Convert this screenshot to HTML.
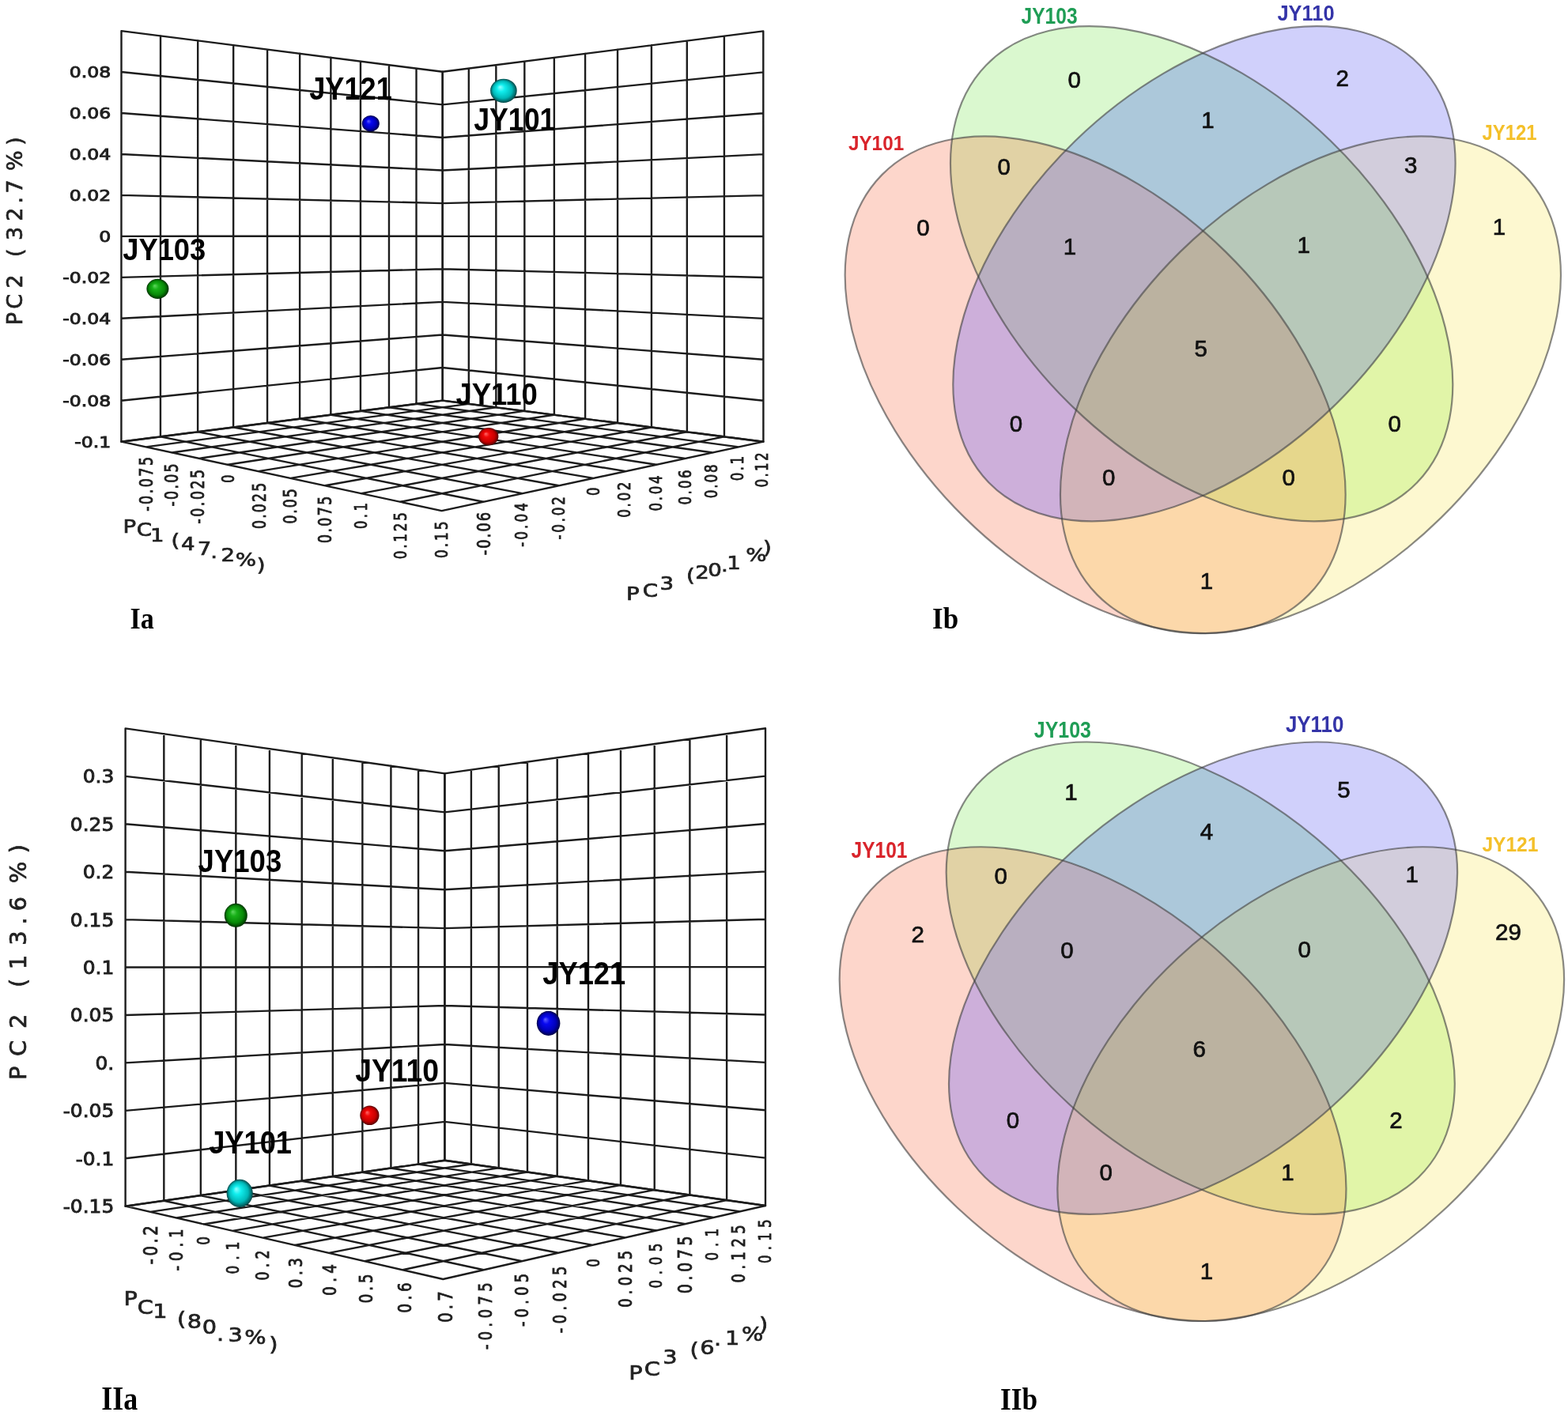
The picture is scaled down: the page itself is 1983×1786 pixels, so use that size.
<!DOCTYPE html><html><head><meta charset="utf-8"><title>PCA and Venn</title><style>html,body{margin:0;padding:0;background:#fff;}svg{display:block;}</style></head><body><svg width="1983" height="1786" viewBox="0 0 1983 1786"><defs><radialGradient id="g_red" cx="0.5" cy="0.5" r="0.5" fx="0.36" fy="0.34"><stop offset="0" stop-color="#ff6a6a"/><stop offset="0.3" stop-color="#f00808"/><stop offset="0.72" stop-color="#c80000"/><stop offset="0.92" stop-color="#780000"/><stop offset="1" stop-color="#500000"/></radialGradient><radialGradient id="g_blue" cx="0.5" cy="0.5" r="0.5" fx="0.36" fy="0.34"><stop offset="0" stop-color="#6060ff"/><stop offset="0.3" stop-color="#0808f0"/><stop offset="0.72" stop-color="#0000b8"/><stop offset="0.92" stop-color="#000068"/><stop offset="1" stop-color="#000040"/></radialGradient><radialGradient id="g_green" cx="0.5" cy="0.5" r="0.5" fx="0.36" fy="0.34"><stop offset="0" stop-color="#60d860"/><stop offset="0.3" stop-color="#18b018"/><stop offset="0.72" stop-color="#088808"/><stop offset="0.92" stop-color="#004c00"/><stop offset="1" stop-color="#003000"/></radialGradient><radialGradient id="g_cyan" cx="0.5" cy="0.5" r="0.5" fx="0.36" fy="0.34"><stop offset="0" stop-color="#90ffff"/><stop offset="0.3" stop-color="#10eeee"/><stop offset="0.72" stop-color="#00b8b8"/><stop offset="0.92" stop-color="#006a6a"/><stop offset="1" stop-color="#004444"/></radialGradient></defs>
<rect width="1983" height="1786" fill="#fff"/>
<path d="M153.50 39.10L153.40 558.70M203.02 45.40L202.94 552.35M250.19 51.41L250.12 546.30M295.17 57.13L295.11 540.53M338.10 62.60L338.06 535.02M379.14 67.82L379.10 529.76M418.38 72.81L418.35 524.72M455.97 77.60L455.94 519.90M491.98 82.18L491.97 515.29M526.53 86.58L526.52 510.85M559.70 90.80L559.70 506.60M153.50 39.10L559.70 90.80M153.49 91.05L559.70 132.37M153.48 143.00L559.70 173.95M153.47 194.95L559.70 215.52M153.46 246.91L559.70 257.10M153.45 298.87L559.70 298.68M153.44 350.83L559.70 340.26M153.43 402.79L559.70 381.84M153.42 454.76L559.70 423.43M153.41 506.73L559.70 465.01M153.40 558.70L559.70 506.60" stroke="#1c1c1c" stroke-width="2.4" fill="none" stroke-linecap="round"/>
<path d="M559.70 90.80L559.70 506.60M592.84 86.60L592.84 510.86M627.35 82.23L627.36 515.29M663.33 77.67L663.35 519.91M700.86 72.91L700.89 524.73M740.06 67.94L740.10 529.77M781.03 62.75L781.08 535.03M823.89 57.32L823.95 540.54M868.79 51.63L868.87 546.30M915.88 45.66L915.96 552.35M965.30 39.40L965.40 558.70M559.70 90.80L965.30 39.40M559.70 132.37L965.31 91.32M559.70 173.95L965.32 143.24M559.70 215.52L965.33 195.16M559.70 257.10L965.34 247.09M559.70 298.68L965.35 299.02M559.70 340.26L965.36 350.95M559.70 381.84L965.37 402.88M559.70 423.43L965.38 454.82M559.70 465.01L965.39 506.76M559.70 506.60L965.40 558.70" stroke="#1c1c1c" stroke-width="2.4" fill="none" stroke-linecap="round"/>
<path d="M153.40 558.70L558.60 646.10M203.04 552.33L611.26 634.79M250.30 546.27L660.59 624.19M295.33 540.50L706.88 614.24M338.30 534.99L750.42 604.89M379.34 529.73L791.44 596.08M418.58 524.70L830.14 587.76M456.13 519.88L866.73 579.90M492.11 515.27L901.37 572.46M526.60 510.84L934.22 565.40M559.70 506.60L965.40 558.70M153.40 558.70L559.70 506.60M184.44 565.40L592.74 510.84M217.15 572.45L627.16 515.26M251.64 579.89L663.07 519.88M288.08 587.75L700.56 524.69M326.63 596.06L739.74 529.72M367.48 604.88L780.72 534.98M410.85 614.23L823.63 540.49M456.97 624.18L868.61 546.27M506.12 634.78L915.81 552.33M558.60 646.10L965.40 558.70" stroke="#1c1c1c" stroke-width="2.4" fill="none" stroke-linecap="round"/>
<text transform="translate(87.70,98.42) scale(1.2313,1)" style="font-family:'DejaVu Sans',sans-serif;font-size:19.14px;stroke:#1e1e1e;stroke-width:0.9px;" fill="#222">0.08</text>
<text transform="translate(87.70,150.38) scale(1.2313,1)" style="font-family:'DejaVu Sans',sans-serif;font-size:19.14px;stroke:#1e1e1e;stroke-width:0.9px;" fill="#222">0.06</text>
<text transform="translate(87.70,202.34) scale(1.2313,1)" style="font-family:'DejaVu Sans',sans-serif;font-size:19.14px;stroke:#1e1e1e;stroke-width:0.9px;" fill="#222">0.04</text>
<text transform="translate(87.70,254.30) scale(1.2313,1)" style="font-family:'DejaVu Sans',sans-serif;font-size:19.14px;stroke:#1e1e1e;stroke-width:0.9px;" fill="#222">0.02</text>
<text transform="translate(125.17,306.26) scale(1.2313,1)" style="font-family:'DejaVu Sans',sans-serif;font-size:19.14px;stroke:#1e1e1e;stroke-width:0.9px;" fill="#222">0</text>
<text transform="translate(79.22,358.22) scale(1.2313,1)" style="font-family:'DejaVu Sans',sans-serif;font-size:19.14px;stroke:#1e1e1e;stroke-width:0.9px;" fill="#222">-0.02</text>
<text transform="translate(79.22,410.18) scale(1.2313,1)" style="font-family:'DejaVu Sans',sans-serif;font-size:19.14px;stroke:#1e1e1e;stroke-width:0.9px;" fill="#222">-0.04</text>
<text transform="translate(79.22,462.14) scale(1.2313,1)" style="font-family:'DejaVu Sans',sans-serif;font-size:19.14px;stroke:#1e1e1e;stroke-width:0.9px;" fill="#222">-0.06</text>
<text transform="translate(79.22,514.10) scale(1.2313,1)" style="font-family:'DejaVu Sans',sans-serif;font-size:19.14px;stroke:#1e1e1e;stroke-width:0.9px;" fill="#222">-0.08</text>
<text transform="translate(94.18,566.06) scale(1.2313,1)" style="font-family:'DejaVu Sans',sans-serif;font-size:19.14px;stroke:#1e1e1e;stroke-width:0.9px;" fill="#222">-0.1</text>
<text transform="translate(192.66,646.70) rotate(-90) scale(0.7800,1)" style="font-family:'DejaVu Sans',sans-serif;font-size:22.44px;letter-spacing:3.17px;stroke:#1a1a1a;stroke-width:0.9px;" fill="#222">-0.075</text>
<text transform="translate(225.46,640.40) rotate(-90) scale(0.7800,1)" style="font-family:'DejaVu Sans',sans-serif;font-size:22.44px;letter-spacing:2.79px;stroke:#1a1a1a;stroke-width:0.9px;" fill="#222">-0.05</text>
<text transform="translate(258.27,662.60) rotate(-90) scale(0.7800,1)" style="font-family:'DejaVu Sans',sans-serif;font-size:22.31px;letter-spacing:3.25px;stroke:#1a1a1a;stroke-width:0.9px;" fill="#222">-0.025</text>
<text transform="translate(296.39,610.70) rotate(-90) scale(0.7800,1)" style="font-family:'DejaVu Sans',sans-serif;font-size:20.86px;letter-spacing:0.00px;stroke:#1a1a1a;stroke-width:0.9px;" fill="#222">0</text>
<text transform="translate(335.57,669.00) rotate(-90) scale(0.7800,1)" style="font-family:'DejaVu Sans',sans-serif;font-size:22.31px;letter-spacing:2.72px;stroke:#1a1a1a;stroke-width:0.9px;" fill="#222">0.025</text>
<text transform="translate(374.77,662.60) rotate(-90) scale(0.7800,1)" style="font-family:'DejaVu Sans',sans-serif;font-size:22.31px;letter-spacing:2.41px;stroke:#1a1a1a;stroke-width:0.9px;" fill="#222">0.05</text>
<text transform="translate(419.27,687.00) rotate(-90) scale(0.7800,1)" style="font-family:'DejaVu Sans',sans-serif;font-size:22.31px;letter-spacing:3.04px;stroke:#1a1a1a;stroke-width:0.9px;" fill="#222">0.075</text>
<text transform="translate(463.79,669.00) rotate(-90) scale(0.7800,1)" style="font-family:'DejaVu Sans',sans-serif;font-size:20.99px;letter-spacing:4.34px;stroke:#1a1a1a;stroke-width:0.9px;" fill="#222">0.1</text>
<text transform="translate(513.58,707.30) rotate(-90) scale(0.7800,1)" style="font-family:'DejaVu Sans',sans-serif;font-size:21.65px;letter-spacing:3.51px;stroke:#1a1a1a;stroke-width:0.9px;" fill="#222">0.125</text>
<text transform="translate(565.67,706.00) rotate(-90) scale(0.7800,1)" style="font-family:'DejaVu Sans',sans-serif;font-size:21.78px;letter-spacing:3.74px;stroke:#1a1a1a;stroke-width:0.9px;" fill="#222">0.15</text>
<text transform="translate(619.66,702.20) rotate(-90) scale(0.7800,1)" style="font-family:'DejaVu Sans',sans-serif;font-size:22.97px;letter-spacing:2.61px;stroke:#1a1a1a;stroke-width:0.9px;" fill="#222">-0.06</text>
<text transform="translate(667.28,691.80) rotate(-90) scale(0.7800,1)" style="font-family:'DejaVu Sans',sans-serif;font-size:21.52px;letter-spacing:3.93px;stroke:#1a1a1a;stroke-width:0.9px;" fill="#222">-0.04</text>
<text transform="translate(713.68,682.50) rotate(-90) scale(0.7800,1)" style="font-family:'DejaVu Sans',sans-serif;font-size:21.52px;letter-spacing:3.55px;stroke:#1a1a1a;stroke-width:0.9px;" fill="#222">-0.02</text>
<text transform="translate(757.68,626.90) rotate(-90) scale(0.7800,1)" style="font-family:'DejaVu Sans',sans-serif;font-size:21.39px;letter-spacing:0.00px;stroke:#1a1a1a;stroke-width:0.9px;" fill="#222">0</text>
<text transform="translate(797.18,654.70) rotate(-90) scale(0.7800,1)" style="font-family:'DejaVu Sans',sans-serif;font-size:21.52px;letter-spacing:3.34px;stroke:#1a1a1a;stroke-width:0.9px;" fill="#222">0.02</text>
<text transform="translate(836.58,646.60) rotate(-90) scale(0.7800,1)" style="font-family:'DejaVu Sans',sans-serif;font-size:21.39px;letter-spacing:3.48px;stroke:#1a1a1a;stroke-width:0.9px;" fill="#222">0.04</text>
<text transform="translate(873.68,638.50) rotate(-90) scale(0.7800,1)" style="font-family:'DejaVu Sans',sans-serif;font-size:21.39px;letter-spacing:2.97px;stroke:#1a1a1a;stroke-width:0.9px;" fill="#222">0.06</text>
<text transform="translate(907.38,630.30) rotate(-90) scale(0.7800,1)" style="font-family:'DejaVu Sans',sans-serif;font-size:21.52px;letter-spacing:2.36px;stroke:#1a1a1a;stroke-width:0.9px;" fill="#222">0.08</text>
<text transform="translate(939.78,608.30) rotate(-90) scale(0.7800,1)" style="font-family:'DejaVu Sans',sans-serif;font-size:21.39px;letter-spacing:3.06px;stroke:#1a1a1a;stroke-width:0.9px;" fill="#222">0.1</text>
<text transform="translate(971.18,616.40) rotate(-90) scale(0.7800,1)" style="font-family:'DejaVu Sans',sans-serif;font-size:21.52px;letter-spacing:2.87px;stroke:#1a1a1a;stroke-width:0.9px;" fill="#222">0.12</text>
<text transform="translate(155.49,674.14) scale(1.2000,1)" style="font-family:'DejaVu Sans',sans-serif;font-size:23.00px;stroke:#222;stroke-width:0.7px;" fill="#222">P</text>
<text transform="translate(172.82,677.77) scale(1.2000,1)" style="font-family:'DejaVu Sans',sans-serif;font-size:23.00px;stroke:#222;stroke-width:0.7px;" fill="#222">C</text>
<text transform="translate(189.90,684.94) scale(1.2000,1)" style="font-family:'DejaVu Sans',sans-serif;font-size:23.00px;stroke:#222;stroke-width:0.7px;" fill="#222">1</text>
<text transform="translate(216.42,691.90) scale(1.2000,1)" style="font-family:'DejaVu Sans',sans-serif;font-size:23.00px;stroke:#222;stroke-width:0.7px;" fill="#222">(</text>
<text transform="translate(228.95,695.75) scale(1.2000,1)" style="font-family:'DejaVu Sans',sans-serif;font-size:23.00px;stroke:#222;stroke-width:0.7px;" fill="#222">4</text>
<text transform="translate(249.65,701.89) scale(1.2000,1)" style="font-family:'DejaVu Sans',sans-serif;font-size:23.00px;stroke:#222;stroke-width:0.7px;" fill="#222">7</text>
<text transform="translate(266.32,705.99) scale(1.2000,1)" style="font-family:'DejaVu Sans',sans-serif;font-size:23.00px;stroke:#222;stroke-width:0.7px;" fill="#222">.</text>
<text transform="translate(279.60,710.44) scale(1.2000,1)" style="font-family:'DejaVu Sans',sans-serif;font-size:23.00px;stroke:#222;stroke-width:0.7px;" fill="#222">2</text>
<text transform="translate(297.69,715.92) scale(1.2000,1)" style="font-family:'DejaVu Sans',sans-serif;font-size:23.00px;stroke:#222;stroke-width:0.7px;" fill="#222">%</text>
<text transform="translate(324.82,723.15) scale(1.2000,1)" style="font-family:'DejaVu Sans',sans-serif;font-size:23.00px;stroke:#222;stroke-width:0.7px;" fill="#222">)</text>
<text transform="translate(792.09,759.35) scale(1.2000,1)" style="font-family:'DejaVu Sans',sans-serif;font-size:23.00px;stroke:#222;stroke-width:0.7px;" fill="#222">P</text>
<text transform="translate(812.82,755.27) scale(1.2000,1)" style="font-family:'DejaVu Sans',sans-serif;font-size:23.00px;stroke:#222;stroke-width:0.7px;" fill="#222">C</text>
<text transform="translate(834.50,746.02) scale(1.2000,1)" style="font-family:'DejaVu Sans',sans-serif;font-size:23.00px;stroke:#222;stroke-width:0.7px;" fill="#222">3</text>
<text transform="translate(868.07,735.60) scale(1.2000,1)" style="font-family:'DejaVu Sans',sans-serif;font-size:23.00px;stroke:#222;stroke-width:0.7px;" fill="#222">(</text>
<text transform="translate(879.15,732.14) scale(1.2000,1)" style="font-family:'DejaVu Sans',sans-serif;font-size:23.00px;stroke:#222;stroke-width:0.7px;" fill="#222">2</text>
<text transform="translate(895.35,728.57) scale(1.2000,1)" style="font-family:'DejaVu Sans',sans-serif;font-size:23.00px;stroke:#222;stroke-width:0.7px;" fill="#222">0</text>
<text transform="translate(911.92,722.79) scale(1.2000,1)" style="font-family:'DejaVu Sans',sans-serif;font-size:23.00px;stroke:#222;stroke-width:0.7px;" fill="#222">.</text>
<text transform="translate(919.15,719.94) scale(1.2000,1)" style="font-family:'DejaVu Sans',sans-serif;font-size:23.00px;stroke:#222;stroke-width:0.7px;" fill="#222">1</text>
<text transform="translate(943.24,710.07) scale(1.2000,1)" style="font-family:'DejaVu Sans',sans-serif;font-size:23.00px;stroke:#222;stroke-width:0.7px;" fill="#222">%</text>
<text transform="translate(964.92,700.79) scale(1.2000,1)" style="font-family:'DejaVu Sans',sans-serif;font-size:23.00px;stroke:#222;stroke-width:0.7px;" fill="#222">)</text>
<text transform="translate(28.40,411.33) rotate(-90)" style="font-family:'DejaVu Sans',sans-serif;font-size:27.00px;stroke:#222;stroke-width:0.7px;" fill="#222">P</text>
<text transform="translate(28.40,390.67) rotate(-90)" style="font-family:'DejaVu Sans',sans-serif;font-size:27.00px;stroke:#222;stroke-width:0.7px;" fill="#222">C</text>
<text transform="translate(28.40,364.46) rotate(-90)" style="font-family:'DejaVu Sans',sans-serif;font-size:27.00px;stroke:#222;stroke-width:0.7px;" fill="#222">2</text>
<text transform="translate(28.40,325.06) rotate(-90)" style="font-family:'DejaVu Sans',sans-serif;font-size:27.00px;stroke:#222;stroke-width:0.7px;" fill="#222">(</text>
<text transform="translate(28.40,304.11) rotate(-90)" style="font-family:'DejaVu Sans',sans-serif;font-size:27.00px;stroke:#222;stroke-width:0.7px;" fill="#222">3</text>
<text transform="translate(28.40,279.86) rotate(-90)" style="font-family:'DejaVu Sans',sans-serif;font-size:27.00px;stroke:#222;stroke-width:0.7px;" fill="#222">2</text>
<text transform="translate(28.40,257.49) rotate(-90)" style="font-family:'DejaVu Sans',sans-serif;font-size:27.00px;stroke:#222;stroke-width:0.7px;" fill="#222">.</text>
<text transform="translate(28.40,244.56) rotate(-90)" style="font-family:'DejaVu Sans',sans-serif;font-size:27.00px;stroke:#222;stroke-width:0.7px;" fill="#222">7</text>
<text transform="translate(28.40,215.92) rotate(-90)" style="font-family:'DejaVu Sans',sans-serif;font-size:27.00px;stroke:#222;stroke-width:0.7px;" fill="#222">%</text>
<text transform="translate(28.40,183.67) rotate(-90)" style="font-family:'DejaVu Sans',sans-serif;font-size:27.00px;stroke:#222;stroke-width:0.7px;" fill="#222">)</text>
<ellipse cx="468.8" cy="156.3" rx="11.0" ry="10.2" fill="url(#g_blue)"/>
<ellipse cx="636.9" cy="114.8" rx="16.8" ry="15.1" fill="url(#g_cyan)"/>
<ellipse cx="199.4" cy="365.3" rx="14.0" ry="12.6" fill="url(#g_green)"/>
<ellipse cx="617.7" cy="552.1" rx="12.7" ry="11.2" fill="url(#g_red)"/>
<text transform="translate(391.20,125.69) scale(0.8831,1)" style="font-family:'Liberation Sans',Arial,sans-serif;font-weight:bold;font-size:40.99px;" fill="#000">JY121</text>
<text transform="translate(599.20,165.49) scale(0.8704,1)" style="font-family:'Liberation Sans',Arial,sans-serif;font-weight:bold;font-size:40.99px;" fill="#000">JY101</text>
<text transform="translate(155.20,328.73) scale(0.9590,1)" style="font-family:'Liberation Sans',Arial,sans-serif;font-weight:bold;font-size:37.89px;" fill="#000">JY103</text>
<text transform="translate(576.40,511.62) scale(0.9639,1)" style="font-family:'Liberation Sans',Arial,sans-serif;font-weight:bold;font-size:37.88px;" fill="#000">JY110</text>
<path d="M158.60 921.40L158.60 1525.70M207.32 928.28L207.32 1518.71M253.85 934.85L253.85 1512.04M298.34 941.13L298.34 1505.66M340.92 947.14L340.92 1499.56M381.71 952.89L381.71 1493.71M420.82 958.42L420.82 1488.10M458.36 963.71L458.36 1482.72M494.41 968.80L494.41 1477.55M529.06 973.69L529.06 1472.58M562.40 978.40L562.40 1467.80M158.60 921.40L562.40 978.40M158.60 981.83L562.40 1027.34M158.60 1042.26L562.40 1076.28M158.60 1102.69L562.40 1125.22M158.60 1163.12L562.40 1174.16M158.60 1223.55L562.40 1223.10M158.60 1283.98L562.40 1272.04M158.60 1344.41L562.40 1320.98M158.60 1404.84L562.40 1369.92M158.60 1465.27L562.40 1418.86M158.60 1525.70L562.40 1467.80" stroke="#1c1c1c" stroke-width="2.4" fill="none" stroke-linecap="round"/>
<path d="M562.40 978.40L562.40 1467.80M595.91 973.67L595.91 1472.53M630.74 968.76L630.74 1477.44M666.97 963.65L666.97 1482.55M704.68 958.33L704.68 1487.87M743.98 952.79L743.98 1493.41M784.95 947.01L784.95 1499.19M827.71 940.98L827.71 1505.22M872.39 934.68L872.39 1511.52M919.10 928.10L919.10 1518.10M968.00 921.20L968.00 1525.00M562.40 978.40L968.00 921.20M562.40 1027.34L968.00 981.58M562.40 1076.28L968.00 1041.96M562.40 1125.22L968.00 1102.34M562.40 1174.16L968.00 1162.72M562.40 1223.10L968.00 1223.10M562.40 1272.04L968.00 1283.48M562.40 1320.98L968.00 1343.86M562.40 1369.92L968.00 1404.24M562.40 1418.86L968.00 1464.62M562.40 1467.80L968.00 1525.00" stroke="#1c1c1c" stroke-width="2.4" fill="none" stroke-linecap="round"/>
<path d="M158.60 1525.70L560.30 1618.00M207.10 1518.75L611.74 1606.27M253.48 1512.10L660.27 1595.20M297.87 1505.73L706.13 1584.73M340.41 1499.63L749.54 1574.83M381.20 1493.78L790.69 1565.44M420.35 1488.17L829.76 1556.53M457.96 1482.77L866.88 1548.07M494.12 1477.59L902.22 1540.01M528.91 1472.60L935.88 1532.33M562.40 1467.80L968.00 1525.00M158.60 1525.70L562.40 1467.80M190.00 1532.91L595.78 1472.51M222.96 1540.49L630.50 1477.40M257.60 1548.45L666.65 1482.50M294.05 1556.82L704.30 1487.81M332.46 1565.65L743.56 1493.35M373.00 1574.96L784.53 1499.13M415.84 1584.81L827.33 1505.16M461.18 1595.22L872.08 1511.47M509.25 1606.27L918.92 1518.08M560.30 1618.00L968.00 1525.00" stroke="#1c1c1c" stroke-width="2.4" fill="none" stroke-linecap="round"/>
<text transform="translate(104.68,990.23) scale(1.0785,1)" style="font-family:'DejaVu Sans',sans-serif;font-size:23.10px;stroke:#1e1e1e;stroke-width:0.9px;" fill="#222">0.3</text>
<text transform="translate(88.80,1050.66) scale(1.0785,1)" style="font-family:'DejaVu Sans',sans-serif;font-size:23.10px;stroke:#1e1e1e;stroke-width:0.9px;" fill="#222">0.25</text>
<text transform="translate(104.68,1111.09) scale(1.0785,1)" style="font-family:'DejaVu Sans',sans-serif;font-size:23.10px;stroke:#1e1e1e;stroke-width:0.9px;" fill="#222">0.2</text>
<text transform="translate(88.80,1171.52) scale(1.0785,1)" style="font-family:'DejaVu Sans',sans-serif;font-size:23.10px;stroke:#1e1e1e;stroke-width:0.9px;" fill="#222">0.15</text>
<text transform="translate(104.68,1231.95) scale(1.0785,1)" style="font-family:'DejaVu Sans',sans-serif;font-size:23.10px;stroke:#1e1e1e;stroke-width:0.9px;" fill="#222">0.1</text>
<text transform="translate(88.80,1292.38) scale(1.0785,1)" style="font-family:'DejaVu Sans',sans-serif;font-size:23.10px;stroke:#1e1e1e;stroke-width:0.9px;" fill="#222">0.05</text>
<text transform="translate(120.51,1352.81) scale(1.0785,1)" style="font-family:'DejaVu Sans',sans-serif;font-size:23.10px;stroke:#1e1e1e;stroke-width:0.9px;" fill="#222">0.</text>
<text transform="translate(79.83,1413.24) scale(1.0785,1)" style="font-family:'DejaVu Sans',sans-serif;font-size:23.10px;stroke:#1e1e1e;stroke-width:0.9px;" fill="#222">-0.05</text>
<text transform="translate(95.65,1473.67) scale(1.0785,1)" style="font-family:'DejaVu Sans',sans-serif;font-size:23.10px;stroke:#1e1e1e;stroke-width:0.9px;" fill="#222">-0.1</text>
<text transform="translate(79.83,1534.10) scale(1.0785,1)" style="font-family:'DejaVu Sans',sans-serif;font-size:23.10px;stroke:#1e1e1e;stroke-width:0.9px;" fill="#222">-0.15</text>
<text transform="translate(198.52,1599.20) rotate(-90) scale(0.7800,1)" style="font-family:'DejaVu Sans',sans-serif;font-size:25.21px;letter-spacing:4.53px;stroke:#1a1a1a;stroke-width:0.9px;" fill="#222">-0.2</text>
<text transform="translate(231.25,1607.40) rotate(-90) scale(0.7800,1)" style="font-family:'DejaVu Sans',sans-serif;font-size:23.37px;letter-spacing:7.48px;stroke:#1a1a1a;stroke-width:0.9px;" fill="#222">-0.1</text>
<text transform="translate(265.28,1574.70) rotate(-90) scale(0.7800,1)" style="font-family:'DejaVu Sans',sans-serif;font-size:21.52px;letter-spacing:0.00px;stroke:#1a1a1a;stroke-width:0.9px;" fill="#222">0</text>
<text transform="translate(302.08,1611.50) rotate(-90) scale(0.7800,1)" style="font-family:'DejaVu Sans',sans-serif;font-size:21.65px;letter-spacing:9.01px;stroke:#1a1a1a;stroke-width:0.9px;" fill="#222">0.1</text>
<text transform="translate(340.17,1619.60) rotate(-90) scale(0.7800,1)" style="font-family:'DejaVu Sans',sans-serif;font-size:22.31px;letter-spacing:6.69px;stroke:#1a1a1a;stroke-width:0.9px;" fill="#222">0.2</text>
<text transform="translate(382.35,1629.20) rotate(-90) scale(0.7800,1)" style="font-family:'DejaVu Sans',sans-serif;font-size:23.37px;letter-spacing:5.85px;stroke:#1a1a1a;stroke-width:0.9px;" fill="#222">0.3</text>
<text transform="translate(424.55,1638.70) rotate(-90) scale(0.7800,1)" style="font-family:'DejaVu Sans',sans-serif;font-size:23.37px;letter-spacing:6.74px;stroke:#1a1a1a;stroke-width:0.9px;" fill="#222">0.4</text>
<text transform="translate(470.85,1648.20) rotate(-90) scale(0.7800,1)" style="font-family:'DejaVu Sans',sans-serif;font-size:23.37px;letter-spacing:4.95px;stroke:#1a1a1a;stroke-width:0.9px;" fill="#222">0.5</text>
<text transform="translate(519.85,1660.50) rotate(-90) scale(0.7800,1)" style="font-family:'DejaVu Sans',sans-serif;font-size:23.37px;letter-spacing:5.85px;stroke:#1a1a1a;stroke-width:0.9px;" fill="#222">0.6</text>
<text transform="translate(571.62,1672.80) rotate(-90) scale(0.7800,1)" style="font-family:'DejaVu Sans',sans-serif;font-size:25.21px;letter-spacing:5.27px;stroke:#1a1a1a;stroke-width:0.9px;" fill="#222">0.7</text>
<text transform="translate(621.96,1707.00) rotate(-90) scale(0.7800,1)" style="font-family:'DejaVu Sans',sans-serif;font-size:22.84px;letter-spacing:6.96px;stroke:#1a1a1a;stroke-width:0.9px;" fill="#222">-0.075</text>
<text transform="translate(668.36,1678.10) rotate(-90) scale(0.7800,1)" style="font-family:'DejaVu Sans',sans-serif;font-size:22.97px;letter-spacing:6.71px;stroke:#1a1a1a;stroke-width:0.9px;" fill="#222">-0.05</text>
<text transform="translate(715.96,1686.20) rotate(-90) scale(0.7800,1)" style="font-family:'DejaVu Sans',sans-serif;font-size:22.97px;letter-spacing:6.90px;stroke:#1a1a1a;stroke-width:0.9px;" fill="#222">-0.025</text>
<text transform="translate(757.68,1602.70) rotate(-90) scale(0.7800,1)" style="font-family:'DejaVu Sans',sans-serif;font-size:21.39px;letter-spacing:0.00px;stroke:#1a1a1a;stroke-width:0.9px;" fill="#222">0</text>
<text transform="translate(799.46,1653.70) rotate(-90) scale(0.7800,1)" style="font-family:'DejaVu Sans',sans-serif;font-size:22.97px;letter-spacing:6.61px;stroke:#1a1a1a;stroke-width:0.9px;" fill="#222">0.025</text>
<text transform="translate(836.58,1629.40) rotate(-90) scale(0.7800,1)" style="font-family:'DejaVu Sans',sans-serif;font-size:21.39px;letter-spacing:8.44px;stroke:#1a1a1a;stroke-width:0.9px;" fill="#222">0.05</text>
<text transform="translate(874.83,1636.30) rotate(-90) scale(0.7800,1)" style="font-family:'DejaVu Sans',sans-serif;font-size:24.55px;letter-spacing:5.83px;stroke:#1a1a1a;stroke-width:0.9px;" fill="#222">0.075</text>
<text transform="translate(908.48,1594.60) rotate(-90) scale(0.7800,1)" style="font-family:'DejaVu Sans',sans-serif;font-size:21.39px;letter-spacing:9.02px;stroke:#1a1a1a;stroke-width:0.9px;" fill="#222">0.1</text>
<text transform="translate(942.16,1622.40) rotate(-90) scale(0.7800,1)" style="font-family:'DejaVu Sans',sans-serif;font-size:22.97px;letter-spacing:6.99px;stroke:#1a1a1a;stroke-width:0.9px;" fill="#222">0.125</text>
<text transform="translate(974.58,1598.00) rotate(-90) scale(0.7800,1)" style="font-family:'DejaVu Sans',sans-serif;font-size:21.39px;letter-spacing:7.88px;stroke:#1a1a1a;stroke-width:0.9px;" fill="#222">0.15</text>
<text transform="translate(156.59,1651.22) scale(1.1500,1)" style="font-family:'DejaVu Sans',sans-serif;font-size:25.00px;stroke:#222;stroke-width:0.7px;" fill="#222">P</text>
<text transform="translate(173.87,1662.09) scale(1.1500,1)" style="font-family:'DejaVu Sans',sans-serif;font-size:25.00px;stroke:#222;stroke-width:0.7px;" fill="#222">C</text>
<text transform="translate(193.14,1666.88) scale(1.1500,1)" style="font-family:'DejaVu Sans',sans-serif;font-size:25.00px;stroke:#222;stroke-width:0.7px;" fill="#222">1</text>
<text transform="translate(223.94,1676.53) scale(1.1500,1)" style="font-family:'DejaVu Sans',sans-serif;font-size:25.00px;stroke:#222;stroke-width:0.7px;" fill="#222">(</text>
<text transform="translate(236.69,1679.84) scale(1.1500,1)" style="font-family:'DejaVu Sans',sans-serif;font-size:25.00px;stroke:#222;stroke-width:0.7px;" fill="#222">8</text>
<text transform="translate(255.79,1686.64) scale(1.1500,1)" style="font-family:'DejaVu Sans',sans-serif;font-size:25.00px;stroke:#222;stroke-width:0.7px;" fill="#222">0</text>
<text transform="translate(273.99,1696.11) scale(1.1500,1)" style="font-family:'DejaVu Sans',sans-serif;font-size:25.00px;stroke:#222;stroke-width:0.7px;" fill="#222">.</text>
<text transform="translate(288.44,1696.84) scale(1.1500,1)" style="font-family:'DejaVu Sans',sans-serif;font-size:25.00px;stroke:#222;stroke-width:0.7px;" fill="#222">3</text>
<text transform="translate(309.14,1700.24) scale(1.1500,1)" style="font-family:'DejaVu Sans',sans-serif;font-size:25.00px;stroke:#222;stroke-width:0.7px;" fill="#222">%</text>
<text transform="translate(340.34,1708.53) scale(1.1500,1)" style="font-family:'DejaVu Sans',sans-serif;font-size:25.00px;stroke:#222;stroke-width:0.7px;" fill="#222">)</text>
<text transform="translate(795.19,1745.17) scale(1.1500,1)" style="font-family:'DejaVu Sans',sans-serif;font-size:25.00px;stroke:#222;stroke-width:0.7px;" fill="#222">P</text>
<text transform="translate(814.67,1739.94) scale(1.1500,1)" style="font-family:'DejaVu Sans',sans-serif;font-size:25.00px;stroke:#222;stroke-width:0.7px;" fill="#222">C</text>
<text transform="translate(838.19,1725.39) scale(1.1500,1)" style="font-family:'DejaVu Sans',sans-serif;font-size:25.00px;stroke:#222;stroke-width:0.7px;" fill="#222">3</text>
<text transform="translate(872.49,1716.12) scale(1.1500,1)" style="font-family:'DejaVu Sans',sans-serif;font-size:25.00px;stroke:#222;stroke-width:0.7px;" fill="#222">(</text>
<text transform="translate(885.19,1712.69) scale(1.1500,1)" style="font-family:'DejaVu Sans',sans-serif;font-size:25.00px;stroke:#222;stroke-width:0.7px;" fill="#222">6</text>
<text transform="translate(903.09,1702.26) scale(1.1500,1)" style="font-family:'DejaVu Sans',sans-serif;font-size:25.00px;stroke:#222;stroke-width:0.7px;" fill="#222">.</text>
<text transform="translate(917.04,1701.12) scale(1.1500,1)" style="font-family:'DejaVu Sans',sans-serif;font-size:25.00px;stroke:#222;stroke-width:0.7px;" fill="#222">1</text>
<text transform="translate(938.09,1696.44) scale(1.1500,1)" style="font-family:'DejaVu Sans',sans-serif;font-size:25.00px;stroke:#222;stroke-width:0.7px;" fill="#222">%</text>
<text transform="translate(960.04,1683.62) scale(1.1500,1)" style="font-family:'DejaVu Sans',sans-serif;font-size:25.00px;stroke:#222;stroke-width:0.7px;" fill="#222">)</text>
<text transform="translate(33.20,1366.09) rotate(-90)" style="font-family:'DejaVu Sans',sans-serif;font-size:29.00px;stroke:#222;stroke-width:0.7px;" fill="#222">P</text>
<text transform="translate(33.20,1336.11) rotate(-90)" style="font-family:'DejaVu Sans',sans-serif;font-size:29.00px;stroke:#222;stroke-width:0.7px;" fill="#222">C</text>
<text transform="translate(33.20,1301.09) rotate(-90)" style="font-family:'DejaVu Sans',sans-serif;font-size:29.00px;stroke:#222;stroke-width:0.7px;" fill="#222">2</text>
<text transform="translate(33.20,1249.06) rotate(-90)" style="font-family:'DejaVu Sans',sans-serif;font-size:29.00px;stroke:#222;stroke-width:0.7px;" fill="#222">(</text>
<text transform="translate(33.20,1226.34) rotate(-90)" style="font-family:'DejaVu Sans',sans-serif;font-size:29.00px;stroke:#222;stroke-width:0.7px;" fill="#222">1</text>
<text transform="translate(33.20,1195.84) rotate(-90)" style="font-family:'DejaVu Sans',sans-serif;font-size:29.00px;stroke:#222;stroke-width:0.7px;" fill="#222">3</text>
<text transform="translate(33.20,1169.50) rotate(-90)" style="font-family:'DejaVu Sans',sans-serif;font-size:29.00px;stroke:#222;stroke-width:0.7px;" fill="#222">.</text>
<text transform="translate(33.20,1152.44) rotate(-90)" style="font-family:'DejaVu Sans',sans-serif;font-size:29.00px;stroke:#222;stroke-width:0.7px;" fill="#222">6</text>
<text transform="translate(33.20,1117.33) rotate(-90)" style="font-family:'DejaVu Sans',sans-serif;font-size:29.00px;stroke:#222;stroke-width:0.7px;" fill="#222">%</text>
<text transform="translate(33.20,1079.20) rotate(-90)" style="font-family:'DejaVu Sans',sans-serif;font-size:29.00px;stroke:#222;stroke-width:0.7px;" fill="#222">)</text>
<ellipse cx="298.3" cy="1157.8" rx="14.5" ry="15.0" fill="url(#g_green)"/>
<ellipse cx="693.6" cy="1294.3" rx="14.8" ry="15.6" fill="url(#g_blue)"/>
<ellipse cx="467.4" cy="1410.8" rx="12.1" ry="12.3" fill="url(#g_red)"/>
<ellipse cx="303.2" cy="1509.4" rx="16.6" ry="17.7" fill="url(#g_cyan)"/>
<text transform="translate(250.60,1102.80) scale(0.9072,1)" style="font-family:'Liberation Sans',Arial,sans-serif;font-weight:bold;font-size:40.28px;" fill="#000">JY103</text>
<text transform="translate(686.30,1244.99) scale(0.8757,1)" style="font-family:'Liberation Sans',Arial,sans-serif;font-weight:bold;font-size:41.41px;" fill="#000">JY121</text>
<text transform="translate(449.20,1368.00) scale(0.9363,1)" style="font-family:'Liberation Sans',Arial,sans-serif;font-weight:bold;font-size:39.86px;" fill="#000">JY110</text>
<text transform="translate(264.20,1458.60) scale(0.8971,1)" style="font-family:'Liberation Sans',Arial,sans-serif;font-weight:bold;font-size:40.42px;" fill="#000">JY101</text>
<defs><ellipse id="aeP" cx="0" cy="0" rx="378.65" ry="235.6" transform=" translate(1385.15,486.75) rotate(44.55)"/><clipPath id="acP"><use href="#aeP"/></clipPath><ellipse id="aeG" cx="0" cy="0" rx="379.4" ry="234.3" transform=" translate(1519.65,346.30) rotate(44.07)"/><clipPath id="acG"><use href="#aeG"/></clipPath><ellipse id="aeB" cx="0" cy="0" rx="379.4" ry="234.3" transform=" translate(1522.95,346.30) rotate(-44.07)"/><clipPath id="acB"><use href="#aeB"/></clipPath><ellipse id="aeY" cx="0" cy="0" rx="378.65" ry="235.6" transform=" translate(1657.45,486.75) rotate(-44.55)"/><clipPath id="acY"><use href="#aeY"/></clipPath><mask id="amPGY" maskUnits="userSpaceOnUse" x="1000" y="-80" width="983" height="1000"><rect x="1000" y="-80" width="983" height="1000" fill="#fff"/><use href="#aeP" fill="#000"/><use href="#aeG" fill="#000"/><use href="#aeY" fill="#000"/></mask><mask id="amPY" maskUnits="userSpaceOnUse" x="1000" y="-80" width="983" height="1000"><rect x="1000" y="-80" width="983" height="1000" fill="#fff"/><use href="#aeP" fill="#000"/><use href="#aeY" fill="#000"/></mask><mask id="amPGB" maskUnits="userSpaceOnUse" x="1000" y="-80" width="983" height="1000"><rect x="1000" y="-80" width="983" height="1000" fill="#fff"/><use href="#aeP" fill="#000"/><use href="#aeG" fill="#000"/><use href="#aeB" fill="#000"/></mask><mask id="amPG" maskUnits="userSpaceOnUse" x="1000" y="-80" width="983" height="1000"><rect x="1000" y="-80" width="983" height="1000" fill="#fff"/><use href="#aeP" fill="#000"/><use href="#aeG" fill="#000"/></mask><mask id="amGBY" maskUnits="userSpaceOnUse" x="1000" y="-80" width="983" height="1000"><rect x="1000" y="-80" width="983" height="1000" fill="#fff"/><use href="#aeG" fill="#000"/><use href="#aeB" fill="#000"/><use href="#aeY" fill="#000"/></mask><mask id="amPBY" maskUnits="userSpaceOnUse" x="1000" y="-80" width="983" height="1000"><rect x="1000" y="-80" width="983" height="1000" fill="#fff"/><use href="#aeP" fill="#000"/><use href="#aeB" fill="#000"/><use href="#aeY" fill="#000"/></mask><mask id="amB" maskUnits="userSpaceOnUse" x="1000" y="-80" width="983" height="1000"><rect x="1000" y="-80" width="983" height="1000" fill="#fff"/><use href="#aeB" fill="#000"/></mask><mask id="amGB" maskUnits="userSpaceOnUse" x="1000" y="-80" width="983" height="1000"><rect x="1000" y="-80" width="983" height="1000" fill="#fff"/><use href="#aeG" fill="#000"/><use href="#aeB" fill="#000"/></mask><mask id="amGY" maskUnits="userSpaceOnUse" x="1000" y="-80" width="983" height="1000"><rect x="1000" y="-80" width="983" height="1000" fill="#fff"/><use href="#aeG" fill="#000"/><use href="#aeY" fill="#000"/></mask><mask id="amP" maskUnits="userSpaceOnUse" x="1000" y="-80" width="983" height="1000"><rect x="1000" y="-80" width="983" height="1000" fill="#fff"/><use href="#aeP" fill="#000"/></mask><mask id="amPB" maskUnits="userSpaceOnUse" x="1000" y="-80" width="983" height="1000"><rect x="1000" y="-80" width="983" height="1000" fill="#fff"/><use href="#aeP" fill="#000"/><use href="#aeB" fill="#000"/></mask><mask id="amBY" maskUnits="userSpaceOnUse" x="1000" y="-80" width="983" height="1000"><rect x="1000" y="-80" width="983" height="1000" fill="#fff"/><use href="#aeB" fill="#000"/><use href="#aeY" fill="#000"/></mask><mask id="amY" maskUnits="userSpaceOnUse" x="1000" y="-80" width="983" height="1000"><rect x="1000" y="-80" width="983" height="1000" fill="#fff"/><use href="#aeY" fill="#000"/></mask><mask id="amG" maskUnits="userSpaceOnUse" x="1000" y="-80" width="983" height="1000"><rect x="1000" y="-80" width="983" height="1000" fill="#fff"/><use href="#aeG" fill="#000"/></mask></defs><g clip-path="url(#acP)"><rect x="1000" y="-80" width="983" height="1000" fill="#FDD6CB" mask="url(#amGBY)"/></g>
<g clip-path="url(#acG)"><rect x="1000" y="-80" width="983" height="1000" fill="#DAF8CF" mask="url(#amPBY)"/></g>
<g clip-path="url(#acB)"><rect x="1000" y="-80" width="983" height="1000" fill="#D0D0FB" mask="url(#amPGY)"/></g>
<g clip-path="url(#acY)"><rect x="1000" y="-80" width="983" height="1000" fill="#FDF8D0" mask="url(#amPGB)"/></g>
<g clip-path="url(#acG)"><g clip-path="url(#acP)"><rect x="1000" y="-80" width="983" height="1000" fill="#E1D2A5" mask="url(#amBY)"/></g></g>
<g clip-path="url(#acB)"><g clip-path="url(#acP)"><rect x="1000" y="-80" width="983" height="1000" fill="#CDAFDA" mask="url(#amGY)"/></g></g>
<g clip-path="url(#acY)"><g clip-path="url(#acP)"><rect x="1000" y="-80" width="983" height="1000" fill="#FCD8AA" mask="url(#amGB)"/></g></g>
<g clip-path="url(#acB)"><g clip-path="url(#acG)"><rect x="1000" y="-80" width="983" height="1000" fill="#ACC8DA" mask="url(#amPY)"/></g></g>
<g clip-path="url(#acY)"><g clip-path="url(#acG)"><rect x="1000" y="-80" width="983" height="1000" fill="#E1F5A8" mask="url(#amPB)"/></g></g>
<g clip-path="url(#acY)"><g clip-path="url(#acB)"><rect x="1000" y="-80" width="983" height="1000" fill="#D2CDDC" mask="url(#amPG)"/></g></g>
<g clip-path="url(#acB)"><g clip-path="url(#acG)"><g clip-path="url(#acP)"><rect x="1000" y="-80" width="983" height="1000" fill="#B9AFC0" mask="url(#amY)"/></g></g></g>
<g clip-path="url(#acY)"><g clip-path="url(#acG)"><g clip-path="url(#acP)"><rect x="1000" y="-80" width="983" height="1000" fill="#E6D78C" mask="url(#amB)"/></g></g></g>
<g clip-path="url(#acY)"><g clip-path="url(#acB)"><g clip-path="url(#acP)"><rect x="1000" y="-80" width="983" height="1000" fill="#D2B4B9" mask="url(#amG)"/></g></g></g>
<g clip-path="url(#acY)"><g clip-path="url(#acB)"><g clip-path="url(#acG)"><rect x="1000" y="-80" width="983" height="1000" fill="#B7C8B9" mask="url(#amP)"/></g></g></g>
<g clip-path="url(#acY)"><g clip-path="url(#acB)"><g clip-path="url(#acG)"><g clip-path="url(#acP)"><rect x="1000" y="-80" width="983" height="1000" fill="#BBB2A0"/></g></g></g></g>
<use href="#aeP" fill="none" stroke="rgba(60,60,60,0.6)" stroke-width="2.2"/>
<use href="#aeG" fill="none" stroke="rgba(60,60,60,0.6)" stroke-width="2.2"/>
<use href="#aeB" fill="none" stroke="rgba(60,60,60,0.6)" stroke-width="2.2"/>
<use href="#aeY" fill="none" stroke="rgba(60,60,60,0.6)" stroke-width="2.2"/>
<text transform="translate(1350.41,111.44) scale(1.0000,1)" style="font-family:'Liberation Sans',Arial,sans-serif;font-size:29.50px;stroke:#111;stroke-width:0.7px;" fill="#111">0</text>
<text transform="translate(1689.41,108.69) scale(1.0000,1)" style="font-family:'Liberation Sans',Arial,sans-serif;font-size:29.50px;stroke:#111;stroke-width:0.7px;" fill="#111">2</text>
<text transform="translate(1519.21,162.34) scale(1.0000,1)" style="font-family:'Liberation Sans',Arial,sans-serif;font-size:29.50px;stroke:#111;stroke-width:0.7px;" fill="#111">1</text>
<text transform="translate(1261.51,220.84) scale(1.0000,1)" style="font-family:'Liberation Sans',Arial,sans-serif;font-size:29.50px;stroke:#111;stroke-width:0.7px;" fill="#111">0</text>
<text transform="translate(1776.01,219.34) scale(1.0000,1)" style="font-family:'Liberation Sans',Arial,sans-serif;font-size:29.50px;stroke:#111;stroke-width:0.7px;" fill="#111">3</text>
<text transform="translate(1159.21,297.84) scale(1.0000,1)" style="font-family:'Liberation Sans',Arial,sans-serif;font-size:29.50px;stroke:#111;stroke-width:0.7px;" fill="#111">0</text>
<text transform="translate(1887.71,296.84) scale(1.0000,1)" style="font-family:'Liberation Sans',Arial,sans-serif;font-size:29.50px;stroke:#111;stroke-width:0.7px;" fill="#111">1</text>
<text transform="translate(1344.71,321.64) scale(1.0000,1)" style="font-family:'Liberation Sans',Arial,sans-serif;font-size:29.50px;stroke:#111;stroke-width:0.7px;" fill="#111">1</text>
<text transform="translate(1640.51,320.14) scale(1.0000,1)" style="font-family:'Liberation Sans',Arial,sans-serif;font-size:29.50px;stroke:#111;stroke-width:0.7px;" fill="#111">1</text>
<text transform="translate(1510.61,450.79) scale(1.0000,1)" style="font-family:'Liberation Sans',Arial,sans-serif;font-size:29.50px;stroke:#111;stroke-width:0.7px;" fill="#111">5</text>
<text transform="translate(1276.71,546.04) scale(1.0000,1)" style="font-family:'Liberation Sans',Arial,sans-serif;font-size:29.50px;stroke:#111;stroke-width:0.7px;" fill="#111">0</text>
<text transform="translate(1755.51,546.04) scale(1.0000,1)" style="font-family:'Liberation Sans',Arial,sans-serif;font-size:29.50px;stroke:#111;stroke-width:0.7px;" fill="#111">0</text>
<text transform="translate(1394.11,614.04) scale(1.0000,1)" style="font-family:'Liberation Sans',Arial,sans-serif;font-size:29.50px;stroke:#111;stroke-width:0.7px;" fill="#111">0</text>
<text transform="translate(1621.41,614.04) scale(1.0000,1)" style="font-family:'Liberation Sans',Arial,sans-serif;font-size:29.50px;stroke:#111;stroke-width:0.7px;" fill="#111">0</text>
<text transform="translate(1517.81,744.84) scale(1.0000,1)" style="font-family:'Liberation Sans',Arial,sans-serif;font-size:29.50px;stroke:#111;stroke-width:0.7px;" fill="#111">1</text>
<text transform="translate(1291.50,29.64) scale(0.8472,1)" style="font-family:'Liberation Sans',Arial,sans-serif;font-weight:bold;font-size:29.01px;" fill="#1F9D55">JY103</text>
<text transform="translate(1072.90,190.03) scale(0.9146,1)" style="font-family:'Liberation Sans',Arial,sans-serif;font-weight:bold;font-size:26.57px;" fill="#D9242B">JY101</text>
<text transform="translate(1615.40,25.93) scale(0.9425,1)" style="font-family:'Liberation Sans',Arial,sans-serif;font-weight:bold;font-size:27.00px;" fill="#3434A8">JY110</text>
<text transform="translate(1874.50,176.62) scale(0.8439,1)" style="font-family:'Liberation Sans',Arial,sans-serif;font-weight:bold;font-size:28.27px;" fill="#F4C02A">JY121</text>
<defs><ellipse id="beP" cx="0" cy="0" rx="378.65" ry="235.6" transform="translate(1471.42,906.8) scale(1.01225,0.95404) translate(-1473.4,0) translate(1385.15,486.75) rotate(44.55)"/><clipPath id="bcP"><use href="#beP"/></clipPath><ellipse id="beG" cx="0" cy="0" rx="379.4" ry="234.3" transform="translate(1471.42,906.8) scale(1.01225,0.95404) translate(-1473.4,0) translate(1519.65,346.30) rotate(44.07)"/><clipPath id="bcG"><use href="#beG"/></clipPath><ellipse id="beB" cx="0" cy="0" rx="379.4" ry="234.3" transform="translate(1471.42,906.8) scale(1.01225,0.95404) translate(-1473.4,0) translate(1522.95,346.30) rotate(-44.07)"/><clipPath id="bcB"><use href="#beB"/></clipPath><ellipse id="beY" cx="0" cy="0" rx="378.65" ry="235.6" transform="translate(1471.42,906.8) scale(1.01225,0.95404) translate(-1473.4,0) translate(1657.45,486.75) rotate(-44.55)"/><clipPath id="bcY"><use href="#beY"/></clipPath><mask id="bmPGY" maskUnits="userSpaceOnUse" x="1000" y="810" width="983" height="1000"><rect x="1000" y="810" width="983" height="1000" fill="#fff"/><use href="#beP" fill="#000"/><use href="#beG" fill="#000"/><use href="#beY" fill="#000"/></mask><mask id="bmPY" maskUnits="userSpaceOnUse" x="1000" y="810" width="983" height="1000"><rect x="1000" y="810" width="983" height="1000" fill="#fff"/><use href="#beP" fill="#000"/><use href="#beY" fill="#000"/></mask><mask id="bmPGB" maskUnits="userSpaceOnUse" x="1000" y="810" width="983" height="1000"><rect x="1000" y="810" width="983" height="1000" fill="#fff"/><use href="#beP" fill="#000"/><use href="#beG" fill="#000"/><use href="#beB" fill="#000"/></mask><mask id="bmPG" maskUnits="userSpaceOnUse" x="1000" y="810" width="983" height="1000"><rect x="1000" y="810" width="983" height="1000" fill="#fff"/><use href="#beP" fill="#000"/><use href="#beG" fill="#000"/></mask><mask id="bmGBY" maskUnits="userSpaceOnUse" x="1000" y="810" width="983" height="1000"><rect x="1000" y="810" width="983" height="1000" fill="#fff"/><use href="#beG" fill="#000"/><use href="#beB" fill="#000"/><use href="#beY" fill="#000"/></mask><mask id="bmPBY" maskUnits="userSpaceOnUse" x="1000" y="810" width="983" height="1000"><rect x="1000" y="810" width="983" height="1000" fill="#fff"/><use href="#beP" fill="#000"/><use href="#beB" fill="#000"/><use href="#beY" fill="#000"/></mask><mask id="bmB" maskUnits="userSpaceOnUse" x="1000" y="810" width="983" height="1000"><rect x="1000" y="810" width="983" height="1000" fill="#fff"/><use href="#beB" fill="#000"/></mask><mask id="bmGB" maskUnits="userSpaceOnUse" x="1000" y="810" width="983" height="1000"><rect x="1000" y="810" width="983" height="1000" fill="#fff"/><use href="#beG" fill="#000"/><use href="#beB" fill="#000"/></mask><mask id="bmGY" maskUnits="userSpaceOnUse" x="1000" y="810" width="983" height="1000"><rect x="1000" y="810" width="983" height="1000" fill="#fff"/><use href="#beG" fill="#000"/><use href="#beY" fill="#000"/></mask><mask id="bmP" maskUnits="userSpaceOnUse" x="1000" y="810" width="983" height="1000"><rect x="1000" y="810" width="983" height="1000" fill="#fff"/><use href="#beP" fill="#000"/></mask><mask id="bmPB" maskUnits="userSpaceOnUse" x="1000" y="810" width="983" height="1000"><rect x="1000" y="810" width="983" height="1000" fill="#fff"/><use href="#beP" fill="#000"/><use href="#beB" fill="#000"/></mask><mask id="bmBY" maskUnits="userSpaceOnUse" x="1000" y="810" width="983" height="1000"><rect x="1000" y="810" width="983" height="1000" fill="#fff"/><use href="#beB" fill="#000"/><use href="#beY" fill="#000"/></mask><mask id="bmY" maskUnits="userSpaceOnUse" x="1000" y="810" width="983" height="1000"><rect x="1000" y="810" width="983" height="1000" fill="#fff"/><use href="#beY" fill="#000"/></mask><mask id="bmG" maskUnits="userSpaceOnUse" x="1000" y="810" width="983" height="1000"><rect x="1000" y="810" width="983" height="1000" fill="#fff"/><use href="#beG" fill="#000"/></mask></defs><g clip-path="url(#bcP)"><rect x="1000" y="810" width="983" height="1000" fill="#FDD6CB" mask="url(#bmGBY)"/></g>
<g clip-path="url(#bcG)"><rect x="1000" y="810" width="983" height="1000" fill="#DAF8CF" mask="url(#bmPBY)"/></g>
<g clip-path="url(#bcB)"><rect x="1000" y="810" width="983" height="1000" fill="#D0D0FB" mask="url(#bmPGY)"/></g>
<g clip-path="url(#bcY)"><rect x="1000" y="810" width="983" height="1000" fill="#FDF8D0" mask="url(#bmPGB)"/></g>
<g clip-path="url(#bcG)"><g clip-path="url(#bcP)"><rect x="1000" y="810" width="983" height="1000" fill="#E1D2A5" mask="url(#bmBY)"/></g></g>
<g clip-path="url(#bcB)"><g clip-path="url(#bcP)"><rect x="1000" y="810" width="983" height="1000" fill="#CDAFDA" mask="url(#bmGY)"/></g></g>
<g clip-path="url(#bcY)"><g clip-path="url(#bcP)"><rect x="1000" y="810" width="983" height="1000" fill="#FCD8AA" mask="url(#bmGB)"/></g></g>
<g clip-path="url(#bcB)"><g clip-path="url(#bcG)"><rect x="1000" y="810" width="983" height="1000" fill="#ACC8DA" mask="url(#bmPY)"/></g></g>
<g clip-path="url(#bcY)"><g clip-path="url(#bcG)"><rect x="1000" y="810" width="983" height="1000" fill="#E1F5A8" mask="url(#bmPB)"/></g></g>
<g clip-path="url(#bcY)"><g clip-path="url(#bcB)"><rect x="1000" y="810" width="983" height="1000" fill="#D2CDDC" mask="url(#bmPG)"/></g></g>
<g clip-path="url(#bcB)"><g clip-path="url(#bcG)"><g clip-path="url(#bcP)"><rect x="1000" y="810" width="983" height="1000" fill="#B9AFC0" mask="url(#bmY)"/></g></g></g>
<g clip-path="url(#bcY)"><g clip-path="url(#bcG)"><g clip-path="url(#bcP)"><rect x="1000" y="810" width="983" height="1000" fill="#E6D78C" mask="url(#bmB)"/></g></g></g>
<g clip-path="url(#bcY)"><g clip-path="url(#bcB)"><g clip-path="url(#bcP)"><rect x="1000" y="810" width="983" height="1000" fill="#D2B4B9" mask="url(#bmG)"/></g></g></g>
<g clip-path="url(#bcY)"><g clip-path="url(#bcB)"><g clip-path="url(#bcG)"><rect x="1000" y="810" width="983" height="1000" fill="#B7C8B9" mask="url(#bmP)"/></g></g></g>
<g clip-path="url(#bcY)"><g clip-path="url(#bcB)"><g clip-path="url(#bcG)"><g clip-path="url(#bcP)"><rect x="1000" y="810" width="983" height="1000" fill="#BBB2A0"/></g></g></g></g>
<use href="#beP" fill="none" stroke="rgba(60,60,60,0.6)" stroke-width="2.2"/>
<use href="#beG" fill="none" stroke="rgba(60,60,60,0.6)" stroke-width="2.2"/>
<use href="#beB" fill="none" stroke="rgba(60,60,60,0.6)" stroke-width="2.2"/>
<use href="#beY" fill="none" stroke="rgba(60,60,60,0.6)" stroke-width="2.2"/>
<text transform="translate(1346.31,1011.84) scale(1.0000,1)" style="font-family:'Liberation Sans',Arial,sans-serif;font-size:29.50px;stroke:#111;stroke-width:0.7px;" fill="#111">1</text>
<text transform="translate(1691.21,1009.19) scale(1.0000,1)" style="font-family:'Liberation Sans',Arial,sans-serif;font-size:29.50px;stroke:#111;stroke-width:0.7px;" fill="#111">5</text>
<text transform="translate(1517.81,1061.64) scale(1.0000,1)" style="font-family:'Liberation Sans',Arial,sans-serif;font-size:29.50px;stroke:#111;stroke-width:0.7px;" fill="#111">4</text>
<text transform="translate(1257.51,1118.44) scale(1.0000,1)" style="font-family:'Liberation Sans',Arial,sans-serif;font-size:29.50px;stroke:#111;stroke-width:0.7px;" fill="#111">0</text>
<text transform="translate(1777.51,1115.84) scale(1.0000,1)" style="font-family:'Liberation Sans',Arial,sans-serif;font-size:29.50px;stroke:#111;stroke-width:0.7px;" fill="#111">1</text>
<text transform="translate(1152.51,1192.09) scale(1.0000,1)" style="font-family:'Liberation Sans',Arial,sans-serif;font-size:29.50px;stroke:#111;stroke-width:0.7px;" fill="#111">2</text>
<text transform="translate(1890.99,1189.44) scale(1.0000,1)" style="font-family:'Liberation Sans',Arial,sans-serif;font-size:29.50px;stroke:#111;stroke-width:0.7px;" fill="#111">29</text>
<text transform="translate(1341.21,1212.24) scale(1.0000,1)" style="font-family:'Liberation Sans',Arial,sans-serif;font-size:29.50px;stroke:#111;stroke-width:0.7px;" fill="#111">0</text>
<text transform="translate(1641.51,1210.74) scale(1.0000,1)" style="font-family:'Liberation Sans',Arial,sans-serif;font-size:29.50px;stroke:#111;stroke-width:0.7px;" fill="#111">0</text>
<text transform="translate(1508.61,1336.54) scale(1.0000,1)" style="font-family:'Liberation Sans',Arial,sans-serif;font-size:29.50px;stroke:#111;stroke-width:0.7px;" fill="#111">6</text>
<text transform="translate(1272.81,1426.84) scale(1.0000,1)" style="font-family:'Liberation Sans',Arial,sans-serif;font-size:29.50px;stroke:#111;stroke-width:0.7px;" fill="#111">0</text>
<text transform="translate(1757.21,1426.99) scale(1.0000,1)" style="font-family:'Liberation Sans',Arial,sans-serif;font-size:29.50px;stroke:#111;stroke-width:0.7px;" fill="#111">2</text>
<text transform="translate(1390.41,1492.74) scale(1.0000,1)" style="font-family:'Liberation Sans',Arial,sans-serif;font-size:29.50px;stroke:#111;stroke-width:0.7px;" fill="#111">0</text>
<text transform="translate(1620.21,1492.74) scale(1.0000,1)" style="font-family:'Liberation Sans',Arial,sans-serif;font-size:29.50px;stroke:#111;stroke-width:0.7px;" fill="#111">1</text>
<text transform="translate(1517.81,1618.04) scale(1.0000,1)" style="font-family:'Liberation Sans',Arial,sans-serif;font-size:29.50px;stroke:#111;stroke-width:0.7px;" fill="#111">1</text>
<text transform="translate(1307.80,932.94) scale(0.8718,1)" style="font-family:'Liberation Sans',Arial,sans-serif;font-weight:bold;font-size:28.59px;" fill="#1F9D55">JY103</text>
<text transform="translate(1625.90,926.40) scale(0.8604,1)" style="font-family:'Liberation Sans',Arial,sans-serif;font-weight:bold;font-size:30.11px;" fill="#3434A8">JY110</text>
<text transform="translate(1076.50,1085.11) scale(0.8555,1)" style="font-family:'Liberation Sans',Arial,sans-serif;font-weight:bold;font-size:28.69px;" fill="#D9242B">JY101</text>
<text transform="translate(1874.40,1076.53) scale(0.9250,1)" style="font-family:'Liberation Sans',Arial,sans-serif;font-weight:bold;font-size:26.57px;" fill="#F4C02A">JY121</text>
<text transform="translate(164.60,795.12) scale(0.8984,1)" style="font-family:'Liberation Serif','Times New Roman',serif;font-weight:bold;font-size:37.89px;" fill="#000">Ia</text>
<text transform="translate(1179.10,794.51) scale(0.9079,1)" style="font-family:'Liberation Serif','Times New Roman',serif;font-weight:bold;font-size:38.58px;" fill="#000">Ib</text>
<text transform="translate(128.20,1783.38) scale(0.8657,1)" style="font-family:'Liberation Serif','Times New Roman',serif;font-weight:bold;font-size:41.50px;" fill="#000">IIa</text>
<text transform="translate(1264.90,1783.41) scale(0.9031,1)" style="font-family:'Liberation Serif','Times New Roman',serif;font-weight:bold;font-size:39.15px;" fill="#000">IIb</text></svg></body></html>
